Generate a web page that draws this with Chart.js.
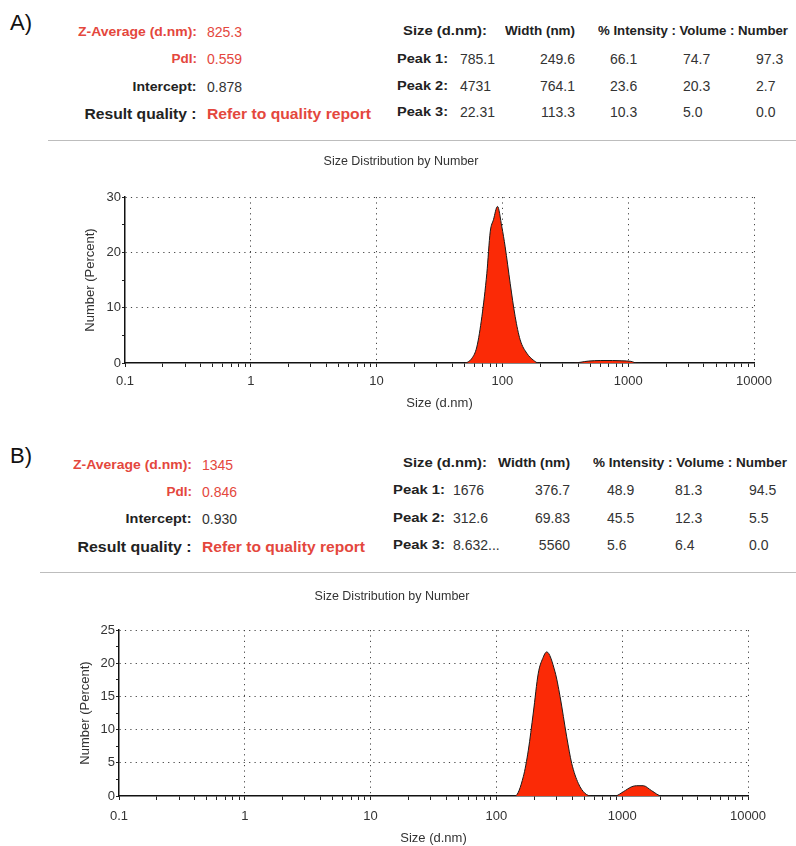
<!DOCTYPE html>
<html>
<head>
<meta charset="utf-8">
<script src="https://cdn.jsdelivr.net/npm/chart.js@4/dist/chart.umd.min.js"></script>
<style>
  html, body { margin:0; padding:0; background:#fff; }
  body { width:796px; height:846px; position:relative; overflow:hidden; font-family:"Liberation Sans", Arial, sans-serif; color:#222; }
  .t { position:absolute; white-space:nowrap; line-height:1; }
  .v { font-size:14px; color:#333; }
  .lab { font-size:13.5px; font-weight:bold; color:#222; }
  .big { font-size:15px; font-weight:bold; color:#222; }
  .t.red { color:#e4473d; }
  .sep { position:absolute; height:0; border-top:1.5px solid #bdbdbd; }
  canvas { position:absolute; }
</style>
</head>
<body>
<div id="hdr"></div>
<div class="sep" style="left:48px; top:140px; width:748px;"></div>
<div class="sep" style="left:40px; top:572px; width:756px;"></div>
<canvas id="cA" width="748" height="266" style="left:48px; top:145px;"></canvas>
<canvas id="cB" width="760" height="266" style="left:36px; top:580px;"></canvas>
<script>
// ---------------- data ----------------
const panelLabels = ['A)', 'B)'];
const zAverage = ['825.3', '1345'];
const pdi = ['0.559', '0.846'];
const intercept = ['0.878', '0.930'];
const resultQuality = ['Refer to quality report', 'Refer to quality report'];
const tableHeaders = ['Size (d.nm):', 'Width (nm)', '% Intensity : Volume : Number'];
const peakNames = ['Peak 1:', 'Peak 2:', 'Peak 3:'];
const peakSizeA = ['785.1', '4731', '22.31'];
const peakWidthA = ['249.6', '764.1', '113.3'];
const peakIntA = ['66.1', '23.6', '10.3'];
const peakVolA = ['74.7', '20.3', '5.0'];
const peakNumA = ['97.3', '2.7', '0.0'];
const peakSizeB = ['1676', '312.6', '8.632...'];
const peakWidthB = ['376.7', '69.83', '5560'];
const peakIntB = ['48.9', '45.5', '5.6'];
const peakVolB = ['81.3', '12.3', '6.4'];
const peakNumB = ['94.5', '5.5', '0.0'];

const chartTitle = 'Size Distribution by Number';
const xAxisTitle = 'Size (d.nm)';
const yAxisTitle = 'Number (Percent)';
const xMajorLabels = ['0.1', '1', '10', '100', '1000', '10000'];
const yTicksA = [0, 5, 10, 15, 20, 25, 30];
const yLabelStepA = 10;
const yTicksB = [0, 2.5, 5, 7.5, 10, 12.5, 15, 17.5, 20, 22.5, 25];
const yLabelStepB = 5;

const sizeA = [40, 49.0, 57.2, 62.6, 68.7, 75.2, 80.0, 84.9, 91.4, 99.0, 105.2, 115.3, 126.3, 138.4, 156.5, 176.6, 193.5, 220, 300, 367, 483, 600, 750, 891, 1050, 1172, 1300];
const numA  = [0, 0, 0.85, 2.9, 8.4, 16.2, 23.7, 25.9, 28.3, 24.6, 21.0, 14.4, 8.4, 4.2, 1.75, 0.5, 0, 0, 0, 0, 0.35, 0.45, 0.45, 0.4, 0.3, 0, 0];
const sizeB = [100, 140.6, 163.6, 179.4, 196.4, 215.3, 233.3, 251.2, 292.4, 320.6, 362.2, 397, 448, 506, 572.4, 700, 876, 1021, 1191, 1304, 1471, 1714, 2061, 3000];
const numB  = [0, 0, 2.9, 6.9, 12.5, 18.5, 20.7, 21.7, 18.7, 15.0, 8.9, 4.9, 1.9, 0.4, 0, 0, 0, 0.65, 1.4, 1.55, 1.55, 0.8, 0, 0];

// ---------------- header text ----------------
const hdr = document.getElementById('hdr');
function put(text, x, y, cls, right, targetW) {
  const d = document.createElement('div');
  d.className = 't ' + cls;
  d.textContent = text;
  if (right) { d.style.right = (796 - x) + 'px'; } else { d.style.left = x + 'px'; }
  hdr.appendChild(d);
  const h = d.offsetHeight;
  d.style.top = (y - h / 2) + 'px';
  if (targetW) {
    const w = d.getBoundingClientRect().width;
    d.style.transformOrigin = right ? 'right center' : 'left center';
    d.style.transform = 'scaleX(' + (targetW / w).toFixed(4) + ')';
  }
}
const layouts = [
  { panelX: 10, panelY: 23, labR: 197, valL: 207, rows: [32, 59, 87, 113],
    wl: [119, 0, 64, 112, 164],
    th: [403, 505, 598], thW: [84, 70, 190], thY: 31, pk: 397, pkW: 51, pkRows: [59, 86, 112],
    cols: { size: 460, widthR: 575, int: 610, vol: 683, num: 756 },
    d: [peakSizeA, peakWidthA, peakIntA, peakVolA, peakNumA] },
  { panelX: 10, panelY: 456, labR: 192, valL: 202, rows: [465, 492, 519, 546],
    wl: [119, 0, 66, 114, 163],
    th: [403, 498, 593], thW: [84, 72, 194], thY: 463, pk: 393, pkW: 52, pkRows: [490, 518, 545],
    cols: { size: 453, widthR: 570, int: 607, vol: 675, num: 749 },
    d: [peakSizeB, peakWidthB, peakIntB, peakVolB, peakNumB] }
];
layouts.forEach((L, i) => {
  const p = document.createElement('div');
  p.className = 't';
  p.style.left = L.panelX + 'px'; p.style.top = (L.panelY - 11) + 'px';
  p.style.fontSize = '22px'; p.style.color = '#111';
  p.textContent = panelLabels[i];
  hdr.appendChild(p);
  put('Z-Average (d.nm):', L.labR, L.rows[0], 'lab red', true, L.wl[0]);
  put(zAverage[i], L.valL, L.rows[0], 'v red', false);
  put('PdI:', L.labR, L.rows[1], 'lab red', true, L.wl[1]);
  put(pdi[i], L.valL, L.rows[1], 'v red', false);
  put('Intercept:', L.labR, L.rows[2], 'lab', true, L.wl[2]);
  put(intercept[i], L.valL, L.rows[2], 'v', false);
  put('Result quality :', L.labR, L.rows[3], 'big', true, L.wl[3]);
  put(resultQuality[i], L.valL, L.rows[3], 'big red', false, L.wl[4]);
  tableHeaders.forEach((h, j) => put(h, L.th[j], L.thY, 'lab', false, L.thW[j]));
  peakNames.forEach((n, k) => {
    const y = L.pkRows[k];
    put(n, L.pk, y, 'lab', false, L.pkW);
    put(L.d[0][k], L.cols.size, y, 'v', false);
    put(L.d[1][k], L.cols.widthR, y, 'v', true);
    put(L.d[2][k], L.cols.int, y, 'v', false);
    put(L.d[3][k], L.cols.vol, y, 'v', false);
    put(L.d[4][k], L.cols.num, y, 'v', false);
  });
});

// ---------------- charts ----------------
Chart.defaults.font.family = '"Liberation Sans", Arial, sans-serif';
Chart.defaults.color = '#333';

function isPow10(v) { const l = Math.log10(v); return Math.abs(l - Math.round(l)) < 1e-9; }
function xTicks() {
  const t = [];
  xMajorLabels.forEach((l, i) => {
    const v = Number(l);
    if (i < xMajorLabels.length - 1) {
      for (let m = 1; m < 10; m++) t.push({ value: +(v * m).toPrecision(8) });
    } else t.push({ value: v });
  });
  return t;
}

function makeChart(id, sizes, nums, yTicks, yStep, cfg) {
  const pts = sizes.map((s, i) => ({ x: s, y: nums[i] }));
  return new Chart(document.getElementById(id), {
    type: 'line',
    data: { datasets: [{
      data: pts, borderColor: '#1a1a1a', borderWidth: 1, backgroundColor: '#fb2a06',
      fill: 'origin', pointRadius: 0, tension: 0.15, cubicInterpolationMode: 'monotone'
    }] },
    options: {
      responsive: false, animation: false, events: [],
      layout: { padding: { left: 0, right: cfg.padRight, top: 0, bottom: 0 } },
      plugins: {
        legend: { display: false }, tooltip: { enabled: false },
        title: { display: true, text: chartTitle, color: '#333',
          font: { size: 12.5, weight: 'normal' }, padding: { top: 9, bottom: cfg.titleBottom } }
      },
      scales: {
        x: {
          type: 'logarithmic', min: 0.1, max: 10000,
          afterBuildTicks: s => { s.ticks = xTicks(); },
          afterFit: s => { s.height = cfg.xHeight; },
          ticks: { autoSkip: false, maxRotation: 0, minRotation: 0, padding: cfg.xPad,
            font: { size: 13 }, color: '#333',
            callback: v => isPow10(v) ? xMajorLabels[Math.round(Math.log10(v)) + 1] : '' },
          grid: { drawOnChartArea: true, drawTicks: true, tickLength: 4, tickColor: '#222', tickWidth: 1,
            lineWidth: 1,
            color: c => (c.tick && isPow10(c.tick.value) && c.tick.value > 0.1) ? '#444' : 'rgba(0,0,0,0)' },
          border: { display: true, color: '#111', width: 1.5, dash: [1.2, 4.2] },
          title: { display: true, text: xAxisTitle, color: '#333', font: { size: 13 }, padding: { top: 0, bottom: 0 } }
        },
        y: {
          type: 'linear', min: 0, max: yTicks[yTicks.length - 1],
          afterBuildTicks: s => { s.ticks = yTicks.map(v => ({ value: v })); },
          afterFit: s => { s.width = cfg.yWidth; },
          ticks: { autoSkip: false, padding: 1, font: { size: 13 }, color: '#333',
            callback: v => (Math.abs(v / yStep - Math.round(v / yStep)) < 1e-9) ? String(v) : '' },
          grid: { drawOnChartArea: true, drawTicks: true, tickLength: 3, tickColor: '#222', tickWidth: 1,
            lineWidth: 1,
            color: c => (c.tick && c.tick.value > 0 && Math.abs(c.tick.value / yStep - Math.round(c.tick.value / yStep)) < 1e-9) ? '#444' : 'rgba(0,0,0,0)' },
          border: { display: true, color: '#111', width: 1.5, dash: [1.2, 4.2] },
          title: { display: true, text: yAxisTitle, color: '#333', font: { size: 13 }, padding: { top: cfg.yTitlePad, bottom: 0 } }
        }
      }
    }
  });
}

makeChart('cA', sizeA, numA, yTicksA, yLabelStepA,
  { padRight: 42, titleBottom: 28, xHeight: 48, xPad: 6.5, yWidth: 77, yTitlePad: 34.2 });
makeChart('cB', sizeB, numB, yTicksB, yLabelStepB,
  { padRight: 48, titleBottom: 26, xHeight: 50, xPad: 8.5, yWidth: 83, yTitlePad: 41.2 });
</script>
</body>
</html>
